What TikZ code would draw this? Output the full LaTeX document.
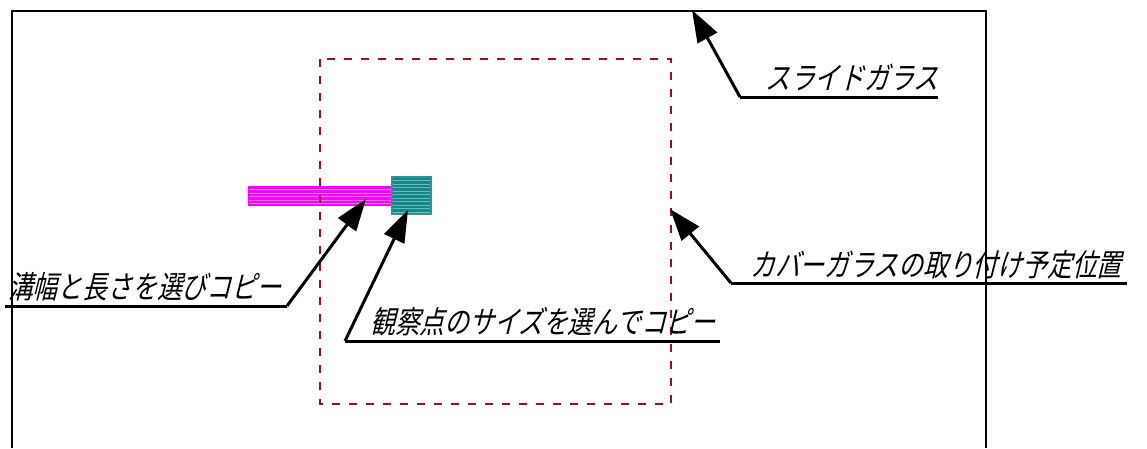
\documentclass[tikz,border=0pt]{standalone}
\usepackage{fontspec}
\newfontfamily\jp[FakeSlant=0.25,FakeStretch=0.8]{Noto Sans CJK JP}
\usetikzlibrary{arrows.meta}
\definecolor{dred}{RGB}{150,20,20}
\definecolor{mag}{RGB}{255,0,255}
\definecolor{magl}{RGB}{255,130,255}
\definecolor{tealf}{RGB}{20,135,135}
\definecolor{teall}{RGB}{110,185,185}
\definecolor{tealb}{RGB}{40,150,150}
\begin{document}
\begin{tikzpicture}[x=1pt,y=-1pt,
  glass/.style={line width=2.5pt,black},
  cover/.style={line width=2.5pt,dred,dash pattern=on 8pt off 9pt},
  lead/.style={line width=3pt,black,-{Triangle[length=32pt,width=22pt]}},
  uline/.style={line width=3pt,black},
  lbl/.style={font=\jp\fontsize{31}{33}\selectfont,inner sep=0pt,anchor=base west},
  stripes/.style={path picture={
      \foreach \k in {1,...,11}{
        \draw[#1,line width=0.6pt] ([yshift=-\k*3.5pt]path picture bounding box.north west) -- ([yshift=-\k*3.5pt]path picture bounding box.north east);}}},
  barbox/.style={draw=mag,line width=1pt,fill=mag,stripes=magl,minimum width=145pt,minimum height=19pt,inner sep=0pt},
  sqbox/.style={draw=tealb,line width=1.5pt,fill=tealf,stripes=teall,minimum width=39pt,minimum height=37pt,inner sep=0pt}]
\useasboundingbox (0,0) rectangle (1147,448);
% slide glass
\draw[glass] (12,448) -- (12,11) -- (986,11) -- (986,448);
% groove bar and observation point
\node[barbox] (bar) at (320.5,195.5) {};
\node[sqbox] (sq) at (411.5,195.5) {};
% cover glass planned position
\draw[cover] (320,59) rectangle (671,404);
% labels
\node[lbl] (t1) at (765,89) {スライドガラス};
\node[lbl] (t2) at (750,276) {カバーガラスの取り付け予定位置};
\node[lbl] (t3) at (8,298) {溝幅と長さを選びコピー};
\node[lbl] (t4) at (370,333) {観察点のサイズを選んでコピー};
% leader coordinates
\coordinate (tip1) at (692,10);
\coordinate (e1) at (740,97);
\coordinate (u1) at (938,97);
\coordinate (tip2) at (670,209);
\coordinate (e2) at (731,283);
\coordinate (u2) at (1127,283);
\coordinate (tip3) at (366,199);
\coordinate (e3) at (287,306);
\coordinate (u3) at (5,306);
\coordinate (tip4) at (408,210);
\coordinate (e4) at (345,341);
\coordinate (u4) at (720,341);
% leaders
\draw[uline] (u1) -- (e1);
\draw[lead] (e1) -- (tip1);
\draw[uline] (u2) -- (e2);
\draw[lead] (e2) -- (tip2);
\draw[uline] (u3) -- (e3);
\draw[lead] (e3) -- (tip3);
\draw[uline] (u4) -- (e4);
\draw[lead] (e4) -- (tip4);
\end{tikzpicture}
\end{document}
